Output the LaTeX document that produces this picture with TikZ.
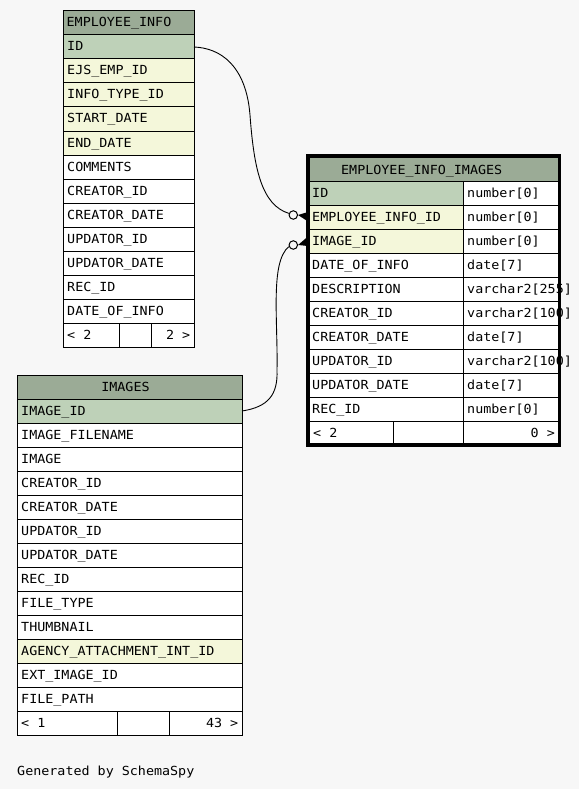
\documentclass[tikz,border=0pt]{standalone}
\usepackage{fontspec}
\newfontfamily\mono[FakeStretch=1.07]{DejaVu Sans Mono}
\definecolor{bg}{HTML}{F7F7F7}
\definecolor{hdr}{HTML}{9BAB96}
\definecolor{pk}{HTML}{BED1B8}
\definecolor{idx}{HTML}{F4F7DA}
\tikzset{
  cell/.style={draw=black, line width=1pt, rectangle, anchor=north west, minimum height=24pt, inner sep=0pt, outer sep=0pt},
  txt/.style={font=\mono\fontsize{12.5pt}{14pt}\selectfont, inner sep=0pt, anchor=base west},
  rtxt/.style={txt, anchor=base east},
  ctxt/.style={txt, anchor=base},
  circ/.style={circle, draw=black, line width=1pt, fill=bg, minimum size=8.5pt, inner sep=0pt},
  conn/.style={draw=black, line width=0.9pt},
  crow/.style={fill=black},
  thickframe/.style={draw=black, line width=3.5pt}
}
% name, x, y(top), width, fill, text
\newcommand\erow[6]{%
  \node[cell, fill=#5, minimum width=#4pt] (#1) at (#2,#3) {};
  \node[txt] (#1t) at ([xshift=4pt,yshift=-16pt]#1.north west) {#6};}
% name, x, y(top), width, fill (no text)
\newcommand\ecell[5]{%
  \node[cell, fill=#5, minimum width=#4pt] (#1) at (#2,#3) {};}
\begin{document}
\begin{tikzpicture}[x=1pt,y=-1pt]
\fill[bg] (0,0) rectangle (579,789);
\useasboundingbox (0,0) rectangle (579,789);

% ---------------- EMPLOYEE_INFO ----------------
\node[cell, fill=hdr, minimum width=131pt] (eih) at (63,11) {};
\node[ctxt] (eiht) at (119,27) {EMPLOYEE\_INFO};
\erow{eiA}{63}{35}{131}{pk}{ID}
\erow{eiB}{63}{59}{131}{idx}{EJS\_EMP\_ID}
\erow{eiC}{63}{83}{131}{idx}{INFO\_TYPE\_ID}
\erow{eiD}{63}{107}{131}{idx}{START\_DATE}
\erow{eiE}{63}{131}{131}{idx}{END\_DATE}
\erow{eiF}{63}{155}{131}{white}{COMMENTS}
\erow{eiG}{63}{179}{131}{white}{CREATOR\_ID}
\erow{eiH}{63}{203}{131}{white}{CREATOR\_DATE}
\erow{eiI}{63}{227}{131}{white}{UPDATOR\_ID}
\erow{eiJ}{63}{251}{131}{white}{UPDATOR\_DATE}
\erow{eiK}{63}{275}{131}{white}{REC\_ID}
\erow{eiL}{63}{299}{131}{white}{DATE\_OF\_INFO}
\ecell{eif1}{63}{323}{56}{white}
\ecell{eif2}{119}{323}{32}{white}
\ecell{eif3}{151}{323}{43}{white}
\node[txt] (eif1t) at ([xshift=4pt,yshift=-16pt]eif1.north west) {< 2};
\node[rtxt] (eif3t) at ([xshift=-3.5pt,yshift=-16pt]eif3.north east) {2 >};

% ---------------- IMAGES ----------------
\node[cell, fill=hdr, minimum width=225pt] (imh) at (17,375) {};
\node[ctxt] (imht) at (125.5,391) {IMAGES};
\erow{imA}{17}{399}{225}{pk}{IMAGE\_ID}
\erow{imB}{17}{423}{225}{white}{IMAGE\_FILENAME}
\erow{imC}{17}{447}{225}{white}{IMAGE}
\erow{imD}{17}{471}{225}{white}{CREATOR\_ID}
\erow{imE}{17}{495}{225}{white}{CREATOR\_DATE}
\erow{imF}{17}{519}{225}{white}{UPDATOR\_ID}
\erow{imG}{17}{543}{225}{white}{UPDATOR\_DATE}
\erow{imH}{17}{567}{225}{white}{REC\_ID}
\erow{imI}{17}{591}{225}{white}{FILE\_TYPE}
\erow{imJ}{17}{615}{225}{white}{THUMBNAIL}
\erow{imK}{17}{639}{225}{idx}{AGENCY\_ATTACHMENT\_INT\_ID}
\erow{imL}{17}{663}{225}{white}{EXT\_IMAGE\_ID}
\erow{imM}{17}{687}{225}{white}{FILE\_PATH}
\ecell{imf1}{17}{711}{100}{white}
\ecell{imf2}{117}{711}{52}{white}
\ecell{imf3}{169}{711}{73}{white}
\node[txt] (imf1t) at ([xshift=4pt,yshift=-16pt]imf1.north west) {< 1};
\node[rtxt] (imf3t) at ([xshift=-3.5pt,yshift=-16pt]imf3.north east) {43 >};

% ---------------- EMPLOYEE_INFO_IMAGES ----------------
\node[cell, fill=hdr, minimum width=251.5pt, minimum height=25pt] (eiih) at (308,156) {};
\node[ctxt] (eiiht) at (421.7,174) {EMPLOYEE\_INFO\_IMAGES};
\erow{eiiA}{308}{181}{155}{pk}{ID}
\erow{eiiB}{308}{205}{155}{idx}{EMPLOYEE\_INFO\_ID}
\erow{eiiC}{308}{229}{155}{idx}{IMAGE\_ID}
\erow{eiiD}{308}{253}{155}{white}{DATE\_OF\_INFO}
\erow{eiiE}{308}{277}{155}{white}{DESCRIPTION}
\erow{eiiF}{308}{301}{155}{white}{CREATOR\_ID}
\erow{eiiG}{308}{325}{155}{white}{CREATOR\_DATE}
\erow{eiiH}{308}{349}{155}{white}{UPDATOR\_ID}
\erow{eiiI}{308}{373}{155}{white}{UPDATOR\_DATE}
\erow{eiiJ}{308}{397}{155}{white}{REC\_ID}
\erow{tyA}{463}{181}{96.5}{white}{number[0]}
\erow{tyB}{463}{205}{96.5}{white}{number[0]}
\erow{tyC}{463}{229}{96.5}{white}{number[0]}
\erow{tyD}{463}{253}{96.5}{white}{date[7]}
\erow{tyE}{463}{277}{96.5}{white}{varchar2[255]}
\erow{tyF}{463}{301}{96.5}{white}{varchar2[100]}
\erow{tyG}{463}{325}{96.5}{white}{date[7]}
\erow{tyH}{463}{349}{96.5}{white}{varchar2[100]}
\erow{tyI}{463}{373}{96.5}{white}{date[7]}
\erow{tyJ}{463}{397}{96.5}{white}{number[0]}
\ecell{eiif1}{308}{421}{85}{white}
\ecell{eiif2}{393}{421}{70}{white}
\ecell{eiif3}{463}{421}{96.5}{white}
\node[txt] (eiif1t) at ([xshift=5pt,yshift=-16pt]eiif1.north west) {< 2};
\node[rtxt] (eiif3t) at ([xshift=-4.5pt,yshift=-16pt]eiif3.north east) {0 >};
\draw[thickframe] (eiih.north west) rectangle (eiif3.south east);

% ---------------- connectors ----------------
\node[circ] (c1) at (293.3,215) {};
\node[circ] (c2) at (293.3,245) {};
\draw[conn] (eiA.east) .. controls (220,48) and (246,65) .. (250,115)
  .. controls (254,170) and (262,205) .. (c1.160);
\draw[conn] (imA.east) .. controls (268,407) and (278,395) .. (277,370)
  .. controls (278,320) and (270,262) .. (c2.200);
\fill[crow] (c1.east) -- ([yshift=5pt]eiiB.west) -- ([yshift=-4.5pt]eiiB.west) -- cycle;
\fill[crow] (c2.east) -- ([yshift=4.5pt]eiiC.west) -- ([yshift=-5pt]eiiC.west) -- cycle;

% ---------------- footer text ----------------
\node[txt] (gen) at (17,775) {Generated by SchemaSpy};
\end{tikzpicture}
\end{document}
